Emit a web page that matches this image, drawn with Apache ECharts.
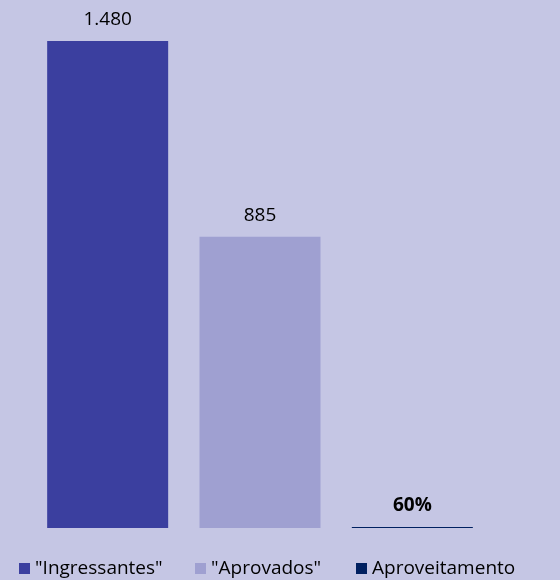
<!DOCTYPE html>
<html><head><meta charset="utf-8">
<script src="https://cdn.jsdelivr.net/npm/echarts@6/dist/echarts.min.js"></script>
<style>html,body{margin:0;padding:0;background:#c5c6e4}#c{width:560px;height:580px}</style>
</head><body><div id="c"></div>
<script>
const categories = ['Ingressantes', 'Aprovados', 'Aproveitamento'];
const seriesNames = ['"Ingressantes"', '"Aprovados"', 'Aproveitamento'];
const values = [1480, 885, 0.6];
const labels = ['1.480', '885', '60%'];
const colors = ['#3b3f9f', '#9fa0d1', '#002060'];

const font = '"Open Sans", "Liberation Sans", sans-serif';
const chart = echarts.init(document.getElementById('c'));
const series = seriesNames.map((name, i) => ({
  name: name,
  type: 'bar',
  stack: 'all',
  barWidth: 121,
  barMinHeight: 1,
  itemStyle: { color: colors[i] },
  data: categories.map((c, j) => j === i ? values[i] : '-'),
  label: {
    show: true, position: 'top', distance: 12,
    formatter: () => labels[i],
    color: '#000', fontSize: 19, fontFamily: font,
    fontWeight: i === 2 ? 'bold' : 'normal'
  }
}));
const legendLefts = [14, 190, 351];
chart.setOption({
  backgroundColor: '#c5c6e4',
  animation: false,
  grid: { left: 31.5, right: 71.5, top: 41, bottom: 52 },
  xAxis: { type: 'category', data: categories, show: false },
  yAxis: { type: 'value', min: 0, max: 1480, show: false },
  legend: seriesNames.map((n, i) => ({
    data: [n], left: legendLefts[i], top: 554, icon: 'rect',
    itemWidth: 11, itemHeight: 11, itemGap: 6,
    textStyle: { fontSize: 19, color: '#000', fontFamily: font }
  })),
  series: series
});
</script></body></html>
